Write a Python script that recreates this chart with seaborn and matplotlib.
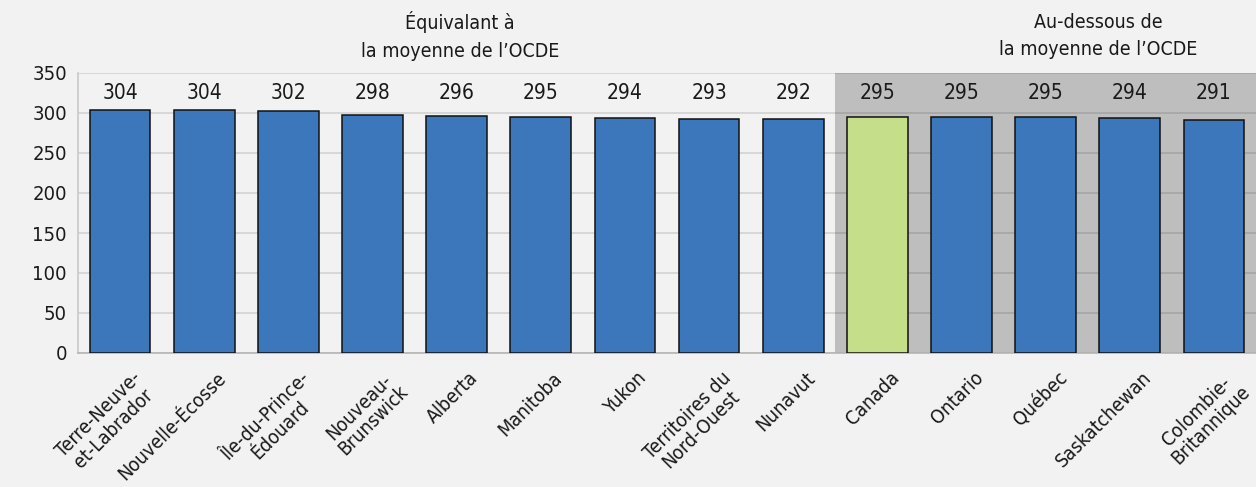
import matplotlib
matplotlib.use("Agg")
from matplotlib import pyplot as plt
from matplotlib import font_manager
from matplotlib.transforms import ScaledTranslation
import seaborn as sns
import pandas as pd

# --- data
provinces = ['Terre-Neuve-\net-Labrador', 'Nouvelle-Écosse', 'Île-du-Prince-\nÉdouard',
             'Nouveau-\nBrunswick', 'Alberta', 'Manitoba', 'Yukon',
             'Territoires du\nNord-Ouest', 'Nunavut', 'Canada', 'Ontario', 'Québec',
             'Saskatchewan', 'Colombie-\nBritannique']
scores = [304, 304, 302, 298, 296, 295, 294, 293, 292, 295, 295, 295, 294, 291]
groups = ['prov'] * 9 + ['canada'] + ['prov'] * 4
group_titles = ['Équivalant à\nla moyenne de l\u2019OCDE', 'Au-dessous de\nla moyenne de l\u2019OCDE']
yticks = [0, 50, 100, 150, 200, 250, 300, 350]

df = pd.DataFrame({'province': provinces, 'score': scores, 'group': groups})

sns.set_style('white')
installed = {f.name for f in font_manager.fontManager.ttflist}
fam = [f for f in ['Liberation Sans Narrow', 'DejaVu Sans'] if f in installed]
plt.rcParams['font.family'] = fam
narrow = fam[0] == 'Liberation Sans Narrow'
stretch = 'normal' if narrow else 'condensed'

bg = '#f2f2f2'
txt = '#1a1a1a'
fig = plt.figure(figsize=(12.56, 4.87), dpi=100, facecolor=bg)
ax = fig.add_axes([78 / 1256, 1 - 353 / 487, 1 - 78 / 1256, 280 / 487])
ax.set_facecolor(bg)

# grey band for "below average" group
ax.axvspan(8.5, 14, color='#bebebf', zorder=0, lw=0)

sns.barplot(data=df, x='province', y='score', hue='group',
            palette={'prov': '#3c77bc', 'canada': '#c5de8a'},
            dodge=False, legend=False, width=0.72, saturation=1,
            edgecolor='#111111', linewidth=1.1, ax=ax, zorder=3)

ax.set_ylim(0, 350)
ax.set_xlim(-0.5, -0.5 + (1256 - 78) / 85)
ax.set_yticks(yticks)
ax.yaxis.grid(True, color='black', alpha=0.12, lw=1.3, zorder=1)
ax.set_axisbelow(True)

fs = 15.5 if narrow else 14.5
ax.tick_params(axis='y', length=0, pad=8, labelcolor=txt)
ax.set_yticklabels([str(v) for v in yticks], fontsize=fs, fontstretch=stretch)
ax.set_xlabel('')
ax.set_ylabel('')

ax.set_xticks(range(len(provinces)))
ax.set_xticklabels(provinces, rotation=45, ha='right', va='top',
                   rotation_mode='anchor', multialignment='center',
                   fontsize=fs - 0.5, fontstretch=stretch, color=txt,
                   linespacing=1.05)
ax.tick_params(axis='x', which='major', length=0, pad=11)
shift = ScaledTranslation(12 / 100, 0, fig.dpi_scale_trans)
for lbl in ax.get_xticklabels():
    lbl.set_transform(lbl.get_transform() + shift)
ax.set_xticks([i + 0.5 for i in range(len(provinces))], minor=True)
ax.tick_params(axis='x', which='minor', direction='in', length=5, color='#bbbbbb', width=1)

for s in ['top', 'right']:
    ax.spines[s].set_visible(False)
ax.spines['left'].set_color('#c8c8c8')
ax.spines['bottom'].set_color('#b5b5b5')
ax.spines['left'].set_linewidth(1.2)
ax.spines['bottom'].set_linewidth(1.2)

for i, v in enumerate(scores):
    ax.text(i, 325, str(v), ha='center', va='center', fontsize=fs + 0.5,
            fontstretch=stretch, color=txt, zorder=4)

fig.text(460 / 1256, 1 - 36 / 487, group_titles[0], ha='center', va='center',
         fontsize=fs - 0.5, fontstretch=stretch, linespacing=1.55, color=txt)
fig.text(1098 / 1256, 1 - 36 / 487, group_titles[1], ha='center', va='center',
         fontsize=fs - 0.5, fontstretch=stretch, linespacing=1.55, color=txt)

fig.savefig('out.png', dpi=100, facecolor=bg)
